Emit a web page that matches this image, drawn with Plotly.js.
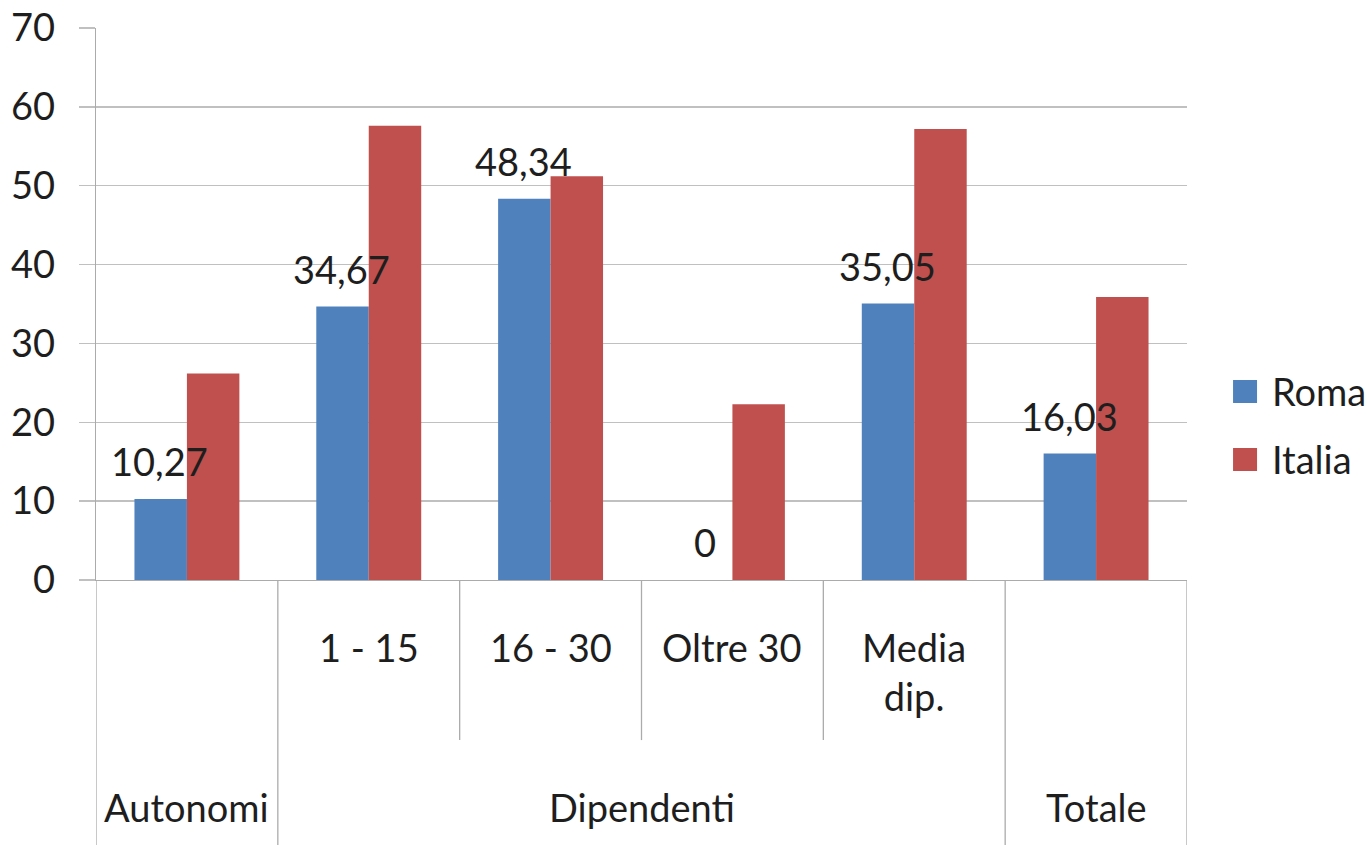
<!DOCTYPE html>
<html>
<head>
<meta charset="utf-8">
<script src="https://cdn.plot.ly/plotly-3.0.1.min.js"></script>
<style>html,body{margin:0;padding:0;background:#ffffff;}</style>
</head>
<body>
<div id="chart" style="width:1369px;height:845px;"></div>
<script>
// ---- data ----
const groups = ['Autonomi', 'Dipendenti', 'Dipendenti', 'Dipendenti', 'Dipendenti', 'Totale'];
const subLabels = ['', '1 - 15', '16 - 30', 'Oltre 30', 'Media<br>dip.', ''];
const seriesNames = ['Roma', 'Italia'];
const roma = [10.27, 34.67, 48.34, 0, 35.05, 16.03];
const italia = [26.2, 57.6, 51.2, 22.3, 57.2, 35.9];
const yTicks = [0, 10, 20, 30, 40, 50, 60, 70];

// ---- styles ----
const FONT = 'Lato, "Open Sans", sans-serif';
const FS = 38;
const TXT = '#1e1e1e';
const GRID = '#c0c0c0';
const AXIS = '#ababab';
const COLORS = ['#4F81BD', '#C0504D'];

const keys = groups.map((g, i) => g + '|' + i);
const fmt = v => (v === 0 ? '0' : v.toFixed(2).replace('.', ','));

const traces = [
  {type: 'bar', name: seriesNames[0], x: keys, y: roma, marker: {color: COLORS[0], line: {width: 0}}, hoverinfo: 'none'},
  {type: 'bar', name: seriesNames[1], x: keys, y: italia, marker: {color: COLORS[1], line: {width: 0}}, hoverinfo: 'none'}
];

const annotations = [];
const shapes = [];

// data labels for Roma
roma.forEach((v, i) => {
  annotations.push({
    x: keys[i], y: v, xref: 'x', yref: 'y', text: fmt(v), showarrow: false,
    xanchor: 'center', yanchor: 'bottom', xshift: -27, yshift: 13,
    font: {family: FONT, size: FS, color: TXT}
  });
});

// first-level category labels
subLabels.forEach((t, i) => {
  if (!t) return;
  annotations.push({
    x: keys[i], y: -0.076, xref: 'x', yref: 'paper', text: t, showarrow: false,
    xanchor: 'center', yanchor: 'top', align: 'center',
    font: {family: FONT, size: FS, color: TXT}
  });
});

// group labels + separators
let start = 0;
for (let i = 1; i <= groups.length; i++) {
  if (i === groups.length || groups[i] !== groups[start]) {
    const center = (start + i - 1) / 2;
    annotations.push({
      x: center, y: -0.366, xref: 'x', yref: 'paper', text: groups[start], showarrow: false,
      xanchor: 'center', yanchor: 'top',
      font: {family: FONT, size: FS, color: TXT}
    });
    start = i;
  }
}
for (let i = 0; i <= groups.length; i++) {
  const boundary = i === 0 || i === groups.length || groups[i] !== groups[i - 1];
  shapes.push({
    type: 'line', xref: 'x', yref: 'paper', x0: i - 0.5, x1: i - 0.5,
    y0: 0, y1: boundary ? -0.48 : -0.29,
    line: {color: AXIS, width: 1.3}
  });
}

// manual legend
const legY = [0.3415, 0.2183];
seriesNames.forEach((n, k) => {
  shapes.push({
    type: 'rect', xref: 'paper', yref: 'paper',
    x0: 1.0422, x1: 1.0642, y0: legY[k] - 0.0208, y1: legY[k] + 0.0208,
    fillcolor: COLORS[k], line: {width: 0}
  });
  annotations.push({
    x: 1.0761, y: legY[k], xref: 'paper', yref: 'paper', text: n, showarrow: false,
    xanchor: 'left', yanchor: 'middle',
    font: {family: FONT, size: FS, color: TXT}
  });
});

const layout = {
  width: 1369, height: 845,
  margin: {l: 96, r: 182, t: 28, b: 265, pad: 0},
  paper_bgcolor: '#ffffff', plot_bgcolor: '#ffffff',
  font: {family: FONT, size: FS, color: TXT},
  showlegend: false,
  barmode: 'group', bargap: 0.423, bargroupgap: 0,
  xaxis: {
    type: 'category', range: [-0.5, groups.length - 0.5],
    showticklabels: false, ticks: '', showgrid: false, zeroline: false,
    showline: true, linecolor: AXIS, linewidth: 1.3, fixedrange: true
  },
  yaxis: {
    range: [0, 70], tickvals: yTicks, ticktext: yTicks.map(String),
    showgrid: true, gridcolor: GRID, gridwidth: 1.4,
    zeroline: false, showline: true, linecolor: AXIS, linewidth: 1.3,
    ticks: 'outside', ticklen: 16, tickcolor: GRID, tickwidth: 1.4,
    ticklabelstandoff: 16,
    tickfont: {family: FONT, size: FS, color: TXT}, fixedrange: true
  },
  annotations: annotations,
  shapes: shapes
};

Plotly.newPlot('chart', traces, layout, {displayModeBar: false, staticPlot: true});
</script>
</body>
</html>
